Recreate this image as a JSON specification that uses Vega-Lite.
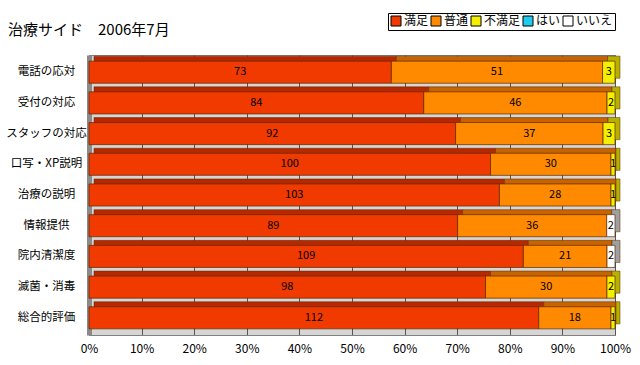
{
  "$schema": "https://vega.github.io/schema/vega-lite/v6.json",
  "width": 526,
  "height": 280,
  "autosize": "none",
  "padding": {"left": 89, "top": 55, "right": 25, "bottom": 30},
  "background": "white",
  "config": {
    "font": "Noto Sans CJK JP",
    "view": {"fill": "#D6D6D6", "stroke": "#808080", "strokeWidth": 1}
  },
  "title": {
    "text": "治療サイド　2006年7月",
    "anchor": "start",
    "frame": "group",
    "dx": -81,
    "offset": -25,
    "fontSize": 15,
    "fontWeight": "normal",
    "font": "Noto Sans CJK JP",
    "color": "black"
  },
  "data": {
    "values": [
      {"item": "電話の応対", "resp": "満足", "n": 73, "o": 1},
      {"item": "電話の応対", "resp": "普通", "n": 51, "o": 2},
      {"item": "電話の応対", "resp": "不満足", "n": 3, "o": 3},
      {"item": "受付の対応", "resp": "満足", "n": 84, "o": 1},
      {"item": "受付の対応", "resp": "普通", "n": 46, "o": 2},
      {"item": "受付の対応", "resp": "不満足", "n": 2, "o": 3},
      {"item": "スタッフの対応", "resp": "満足", "n": 92, "o": 1},
      {"item": "スタッフの対応", "resp": "普通", "n": 37, "o": 2},
      {"item": "スタッフの対応", "resp": "不満足", "n": 3, "o": 3},
      {"item": "口写・XP説明", "resp": "満足", "n": 100, "o": 1},
      {"item": "口写・XP説明", "resp": "普通", "n": 30, "o": 2},
      {"item": "口写・XP説明", "resp": "不満足", "n": 1, "o": 3},
      {"item": "治療の説明", "resp": "満足", "n": 103, "o": 1},
      {"item": "治療の説明", "resp": "普通", "n": 28, "o": 2},
      {"item": "治療の説明", "resp": "不満足", "n": 1, "o": 3},
      {"item": "情報提供", "resp": "満足", "n": 89, "o": 1},
      {"item": "情報提供", "resp": "普通", "n": 36, "o": 2},
      {"item": "情報提供", "resp": "いいえ", "n": 2, "o": 5},
      {"item": "院内清潔度", "resp": "満足", "n": 109, "o": 1},
      {"item": "院内清潔度", "resp": "普通", "n": 21, "o": 2},
      {"item": "院内清潔度", "resp": "いいえ", "n": 2, "o": 5},
      {"item": "滅菌・消毒", "resp": "満足", "n": 98, "o": 1},
      {"item": "滅菌・消毒", "resp": "普通", "n": 30, "o": 2},
      {"item": "滅菌・消毒", "resp": "不満足", "n": 2, "o": 3},
      {"item": "総合的評価", "resp": "満足", "n": 112, "o": 1},
      {"item": "総合的評価", "resp": "普通", "n": 18, "o": 2},
      {"item": "総合的評価", "resp": "不満足", "n": 1, "o": 3}
    ]
  },
  "encoding": {
    "y": {
      "field": "item",
      "type": "nominal",
      "sort": null,
      "scale": {"paddingInner": 0.28, "paddingOuter": 0.2},
      "axis": {
        "title": null,
        "ticks": false,
        "domain": true,
        "domainColor": "#8A8A8A",
        "domainWidth": 5,
        "labelAlign": "center",
        "labelPadding": 43,
        "labelFontSize": 11.5,
        "labelColor": "black",
        "labelFont": "Noto Sans CJK JP"
      }
    },
    "order": {"field": "o", "type": "quantitative"}
  },
  "layer": [
    {
      "mark": {"type": "bar", "xOffset": 5, "yOffset": -5, "stroke": "#5a2a00", "strokeWidth": 0.5},
      "encoding": {
        "x": {
          "field": "n",
          "type": "quantitative",
          "stack": "normalize",
          "scale": {"domain": [0, 1]},
          "axis": {
            "title": null,
            "format": "%",
            "values": [0, 0.1, 0.2, 0.3, 0.4, 0.5, 0.6, 0.7, 0.8, 0.9, 1],
            "grid": true,
            "gridColor": "#555555",
            "gridWidth": 1,
            "domain": true,
            "domainColor": "#808080",
            "ticks": false,
            "labelFlush": false,
            "labelPadding": 8,
            "labelFontSize": 12,
            "labelColor": "black",
            "labelFont": "Noto Sans CJK JP"
          }
        },
        "color": {
          "field": "resp",
          "type": "nominal",
          "scale": {
            "domain": ["満足", "普通", "不満足", "はい", "いいえ"],
            "range": ["#B82800", "#C86400", "#B8B000", "#0098B0", "#A0A0A0"]
          },
          "legend": null
        }
      }
    },
    {
      "mark": {"type": "bar", "stroke": "#5a2a00", "strokeWidth": 0.7},
      "encoding": {
        "x": {"field": "n", "type": "quantitative", "stack": "normalize"},
        "color": {
          "field": "resp",
          "type": "nominal",
          "scale": {
            "domain": ["満足", "普通", "不満足", "はい", "いいえ"],
            "range": ["#F03A00", "#FF8A00", "#F2F000", "#20CCEE", "#FFFFFF"]
          },
          "legend": {
            "title": null,
            "orient": "none",
            "direction": "horizontal",
            "legendX": 299,
            "legendY": -42,
            "symbolType": "square",
            "symbolSize": 100,
            "symbolStrokeColor": "black",
            "symbolStrokeWidth": 1,
            "labelFontSize": 12,
            "labelFont": "Noto Sans CJK JP",
            "labelColor": "black",
            "labelOffset": 2,
            "columnPadding": 0,
            "padding": 2,
            "strokeColor": "black",
            "fillColor": "white"
          }
        }
      }
    },
    {
      "mark": {"type": "text", "fontSize": 11, "color": "black", "font": "Noto Sans CJK JP"},
      "encoding": {
        "x": {"field": "n", "type": "quantitative", "stack": "normalize", "bandPosition": 0.5},
        "text": {"field": "n", "type": "quantitative"}
      }
    }
  ],
  "resolve": {"scale": {"color": "independent"}}
}
